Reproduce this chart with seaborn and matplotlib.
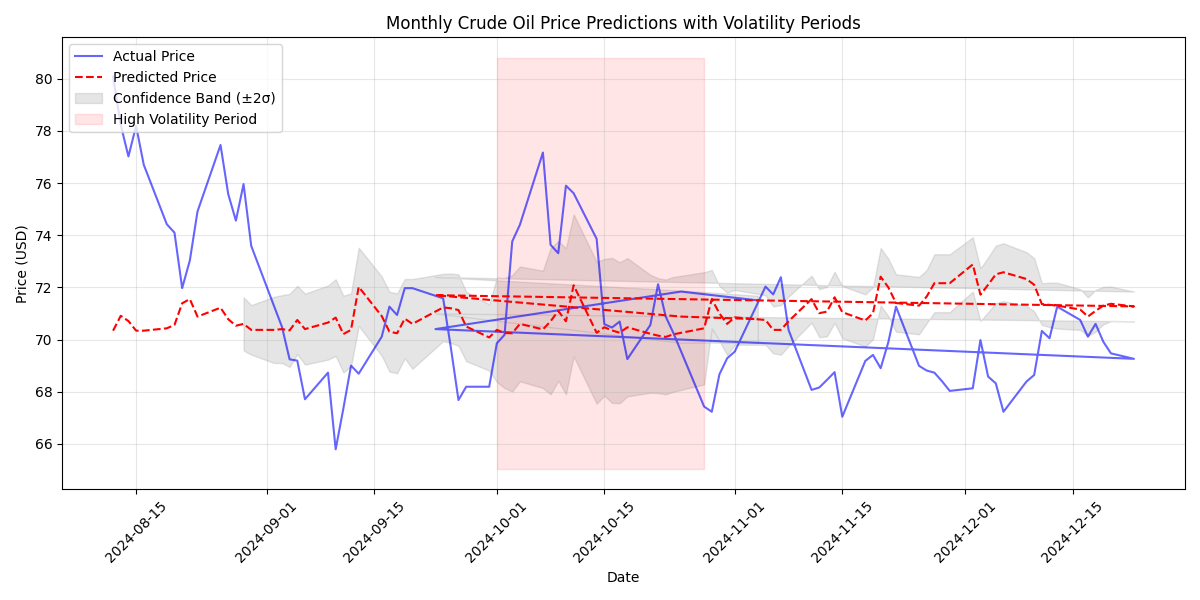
import pandas as pd
import numpy as np
import seaborn as sns
import matplotlib.pyplot as plt

# dias habiles del 12-ago al 23-dic; tres fechas quedaron al final de la tabla
moved_dates = ['2024-09-23', '2024-10-25', '2024-11-04']
all_days = pd.bdate_range('2024-08-12', '2024-12-23')
main_days = [d for d in all_days if d.strftime('%Y-%m-%d') not in moved_dates]
dates = list(main_days) + list(pd.to_datetime(moved_dates))

# precio real (USD)
actual = [80.08, 78.23, 77.02, 78.19, 76.70,
          74.42, 74.10, 71.97, 73.03, 74.91,
          77.46, 75.58, 74.56, 75.96, 73.59,
          71.26, 70.49, 69.24, 69.19, 67.71,
          68.73, 65.79, 67.35, 69.00, 68.69,
          70.11, 71.26, 70.94, 71.97, 71.97,
          71.58, 69.70, 67.68, 68.19,
          68.19, 69.86, 70.18, 73.76, 74.40,
          77.17, 73.63, 73.31, 75.90, 75.61,
          73.86, 70.59, 70.46, 70.69, 69.25,
          70.56, 72.12, 70.88, 70.25,
          67.43, 67.23, 68.67, 69.28, 69.54,
          72.03, 71.73, 72.39, 70.37,
          68.07, 68.16, 68.45, 68.75, 67.04,
          69.18, 69.41, 68.90, 69.90, 71.26,
          68.99, 68.81, 68.73, 68.40, 68.03,
          68.13, 69.98, 68.58, 68.32, 67.23,
          68.39, 68.64, 70.33, 70.05, 71.26,
          70.75, 70.11, 70.60, 69.92, 69.47,
          69.26,
          70.40, 71.84, 71.50]

# precio predicho (USD)
predicted = [70.34, 70.91, 70.71, 70.34, 70.34,
             70.43, 70.56, 71.39, 71.55, 70.88,
             71.22, 70.78, 70.53, 70.60, 70.37,
             70.37, 70.40, 70.35, 70.75, 70.40,
             70.65, 70.84, 70.21, 70.37, 72.02,
             70.90, 70.30, 70.24, 70.80, 70.60,
             71.23, 71.20, 71.13, 70.50,
             70.08, 70.37, 70.25, 70.24, 70.60,
             70.39, 70.70, 71.10, 70.70, 72.08,
             70.26, 70.47, 70.35, 70.26, 70.47,
             70.22, 70.15, 70.10, 70.20,
             70.43, 71.55, 71.00, 70.60, 70.85,
             70.75, 70.37, 70.37, 70.70,
             71.55, 71.01, 71.07, 71.62, 71.05,
             70.73, 71.01, 72.41, 72.00, 71.40,
             71.30, 71.65, 72.16, 72.16, 72.16,
             72.88, 71.72, 72.10, 72.50, 72.58,
             72.32, 72.10, 71.36, 71.33, 71.30,
             71.15, 70.88, 71.10, 71.30, 71.37,
             71.27,
             71.70, 70.88, 70.78]

# ancho de la banda (2 sigma)
nan = np.nan
two_sigma = [nan, nan, nan, nan, nan,
             nan, nan, nan, nan, nan,
             nan, nan, nan, 1.02, 0.95,
             1.27, 1.30, 1.40, 1.31, 1.36,
             1.42, 1.47, 1.47, 1.40, 1.50,
             1.52, 1.53, 1.53, 1.52, 1.72,
             1.29, 1.33, 1.37, 1.33,
             1.27, 2.00, 2.11, 2.23, 2.20,
             2.25, 2.80, 2.68, 2.80, 2.72,
             2.72, 2.62, 2.78, 2.70, 2.65,
             2.26, 2.20, 2.20, 2.20,
             2.15, 1.12, 1.05, 1.20, 1.05,
             0.95, 0.90, 0.95, 0.95,
             0.90, 0.92, 0.95, 0.98, 1.00,
             1.00, 1.00, 1.10, 1.10, 1.10,
             1.10, 1.02, 1.11, 1.11, 1.11,
             1.04, 1.01, 1.05, 1.10, 1.11,
             1.03, 1.02, 0.80, 0.85, 0.88,
             0.78, 0.74, 0.80, 0.72, 0.66,
             0.57,
             0.70, 1.00, 0.90]

# periodo de alta volatilidad
vol_start, vol_end = '2024-10-01', '2024-10-28'
vol_low, vol_high = 65.05, 80.80

df = pd.DataFrame({'Date': dates, 'Actual': actual, 'Predicted': predicted, 'TwoSigma': two_sigma})
df['Upper'] = df['Predicted'] + df['TwoSigma']
df['Lower'] = df['Predicted'] - df['TwoSigma']

fig, ax = plt.subplots(figsize=(12, 6), dpi=100)

sns.lineplot(data=df, x='Date', y='Actual', sort=False, estimator=None,
             color='blue', alpha=0.6, linewidth=1.5, label='Actual Price', ax=ax)
sns.lineplot(data=df, x='Date', y='Predicted', sort=False, estimator=None,
             color='red', linestyle='--', linewidth=1.5, label='Predicted Price', ax=ax)
ax.fill_between(df['Date'], df['Lower'], df['Upper'], color='gray', alpha=0.2,
                label='Confidence Band (±2σ)')
ax.fill_between(pd.to_datetime([vol_start, vol_end]), vol_low, vol_high,
                color='red', alpha=0.1, label='High Volatility Period')

ax.set_title('Monthly Crude Oil Price Predictions with Volatility Periods')
ax.set_xlabel('Date')
ax.set_ylabel('Price (USD)')
ax.grid(True, alpha=0.3)
ax.legend(loc='upper left')
plt.setp(ax.get_xticklabels(), rotation=45)
plt.tight_layout()
plt.savefig('out.png')
